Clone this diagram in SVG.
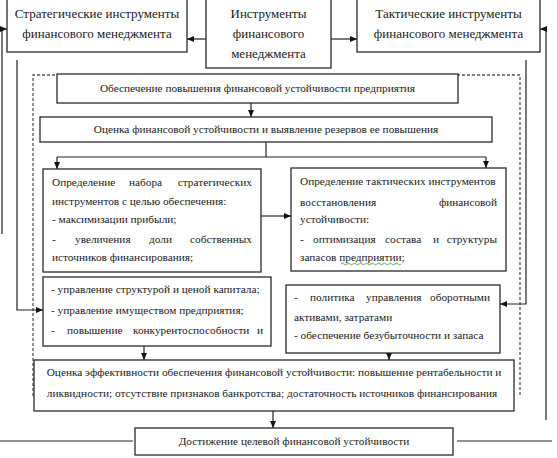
<svg xmlns="http://www.w3.org/2000/svg" width="557" height="458" viewBox="0 0 557 458" font-family="Liberation Serif, Times New Roman, serif">
<defs>
<style>
.box{fill:#fff;stroke:#2a2a2a;stroke-width:1.3}
.ln{fill:none;stroke:#222;stroke-width:1.2}
.dash{fill:none;stroke:#555;stroke-width:1.3;stroke-dasharray:3 2}
.t13{font-size:13px;fill:#1a1a1a}
.t11{font-size:11.3px;fill:#1a1a1a}
.c{text-anchor:middle}
.e{text-anchor:end}
</style>
<marker id="ah" markerWidth="7" markerHeight="6" refX="7" refY="3" orient="auto" markerUnits="userSpaceOnUse">
<path d="M0,0 L7,3 L0,6 Z" fill="#111"/>
</marker>
</defs>
<rect width="557" height="458" fill="#fff"/>

<g id="connectors">
<path class="dash" d="M33,396 V75 H520 V396"/>
<path class="ln" d="M2,234 V29 H7" marker-end="url(#ah)"/>
<path class="ln" d="M17,60 V310 H43" marker-end="url(#ah)"/>
<path class="ln" d="M546,420 V29 H540" marker-end="url(#ah)"/>
<path class="ln" d="M526,60 V304 H500" marker-end="url(#ah)"/>
<path class="ln" d="M206,39 H187" marker-end="url(#ah)"/>
<path class="ln" d="M331,39 H357" marker-end="url(#ah)"/>
<path class="ln" d="M251,103 V117" marker-end="url(#ah)"/>
<path class="ln" d="M266,142 V157"/>
<path class="ln" d="M57,157 H486"/>
<path class="ln" d="M57,157 V169" marker-end="url(#ah)"/>
<path class="ln" d="M486,157 V168" marker-end="url(#ah)"/>
<path class="ln" d="M261,216 H291" marker-end="url(#ah)"/>
<path class="ln" d="M144,346 V360" marker-end="url(#ah)"/>
<path class="ln" d="M389,353 V360" marker-end="url(#ah)"/>
<path class="ln" d="M273,411 V428" marker-end="url(#ah)"/>
<path class="ln" d="M0,441 H133"/>
<path class="ln" d="M457,441 H552"/>
</g>

<g id="strategic">
<rect class="box" x="7" y="-2" width="180" height="54"/>
<text class="t13 c" x="97" y="18">Стратегические инструменты</text>
<text class="t13 c" x="97" y="38">финансового менеджмента</text>
</g>

<g id="instruments">
<rect class="box" x="206" y="-2" width="125" height="70"/>
<text class="t13 c" x="268.5" y="18">Инструменты</text>
<text class="t13 c" x="268.5" y="38">финансового</text>
<text class="t13 c" x="268.5" y="58">менеджмента</text>
</g>

<g id="tactical">
<rect class="box" x="357" y="-2" width="183" height="54"/>
<text class="t13 c" x="448.5" y="18">Тактические инструменты</text>
<text class="t13 c" x="448.5" y="38">финансового менеджмента</text>
</g>

<g id="provision">
<rect class="box" x="57" y="74" width="401" height="29"/>
<text class="t11 c" x="257.5" y="92">Обеспечение повышения финансовой устойчивости предприятия</text>
</g>

<g id="assessment">
<rect class="box" x="40" y="117" width="452" height="25"/>
<text class="t11 c" x="266" y="133">Оценка финансовой устойчивости и выявление резервов ее повышения</text>
</g>

<g id="strategic-set">
<rect class="box" x="43" y="169" width="218" height="103"/>
<text class="t11" x="52" y="186">Определение</text>
<text class="t11" x="129" y="186">набора</text>
<text class="t11 e" x="252" y="186">стратегических</text>
<text class="t11" x="52" y="205">инструментов с целью обеспечения:</text>
<text class="t11" x="52" y="223">- максимизации прибыли;</text>
<text class="t11" x="52" y="243">-</text>
<text class="t11" x="75" y="243">увеличения</text>
<text class="t11" x="149" y="243">доли</text>
<text class="t11 e" x="252" y="243">собственных</text>
<text class="t11" x="52" y="261">источников финансирования;</text>
</g>

<g id="tactical-set">
<rect class="box" x="291" y="168" width="215" height="103"/>
<text class="t11" x="300" y="185">Определение тактических инструментов</text>
<text class="t11" x="300" y="206">восстановления</text>
<text class="t11 e" x="497" y="206">финансовой</text>
<text class="t11" x="300" y="223">устойчивости:</text>
<text class="t11" x="300" y="243">-</text>
<text class="t11" x="313" y="243">оптимизация</text>
<text class="t11" x="385" y="243">состава</text>
<text class="t11" x="433" y="243">и</text>
<text class="t11 e" x="497" y="243">структуры</text>
<text class="t11" x="300" y="261">запасов предприятии;</text>
<path d="M341,264 q1.5,-1.5 3,0 t3,0 t3,0 t3,0 t3,0 t3,0 t3,0 t3,0 t3,0 t3,0 t3,0 t3,0 t3,0 t3,0 t3,0 t3,0 t3,0 t3,0 t3,0 t3,0" fill="none" stroke="#3a9a3a" stroke-width="0.8"/>
</g>

<g id="strategic-measures">
<rect class="box" x="43" y="277" width="228" height="69"/>
<text class="t11" x="51" y="293">- управление структурой и ценой капитала;</text>
<text class="t11" x="51" y="314">- управление имуществом предприятия;</text>
<text class="t11" x="51" y="334">-</text>
<text class="t11" x="67" y="334">повышение</text>
<text class="t11" x="133" y="334">конкурентоспособности</text>
<text class="t11 e" x="263" y="334">и</text>
</g>

<g id="tactical-measures">
<rect class="box" x="286" y="285" width="214" height="68"/>
<text class="t11" x="294" y="301">-</text>
<text class="t11" x="310" y="301">политика</text>
<text class="t11" x="366" y="301">управления</text>
<text class="t11 e" x="490" y="301">оборотными</text>
<text class="t11" x="294" y="321">активами, затратами</text>
<text class="t11" x="294" y="339">- обеспечение безубыточности и запаса</text>
</g>

<g id="efficiency">
<rect class="box" x="34" y="360" width="480" height="51"/>
<text class="t11 c" x="274" y="376">Оценка эффективности обеспечения финансовой устойчивости: повышение рентабельности и</text>
<text class="t11 c" x="272" y="397">ликвидности; отсутствие признаков банкротства; достаточность источников финансирования</text>
</g>

<g id="target">
<rect class="box" x="135" y="428" width="318" height="27"/>
<text class="t11 c" x="294" y="445">Достижение целевой финансовой устойчивости</text>
</g>
</svg>
